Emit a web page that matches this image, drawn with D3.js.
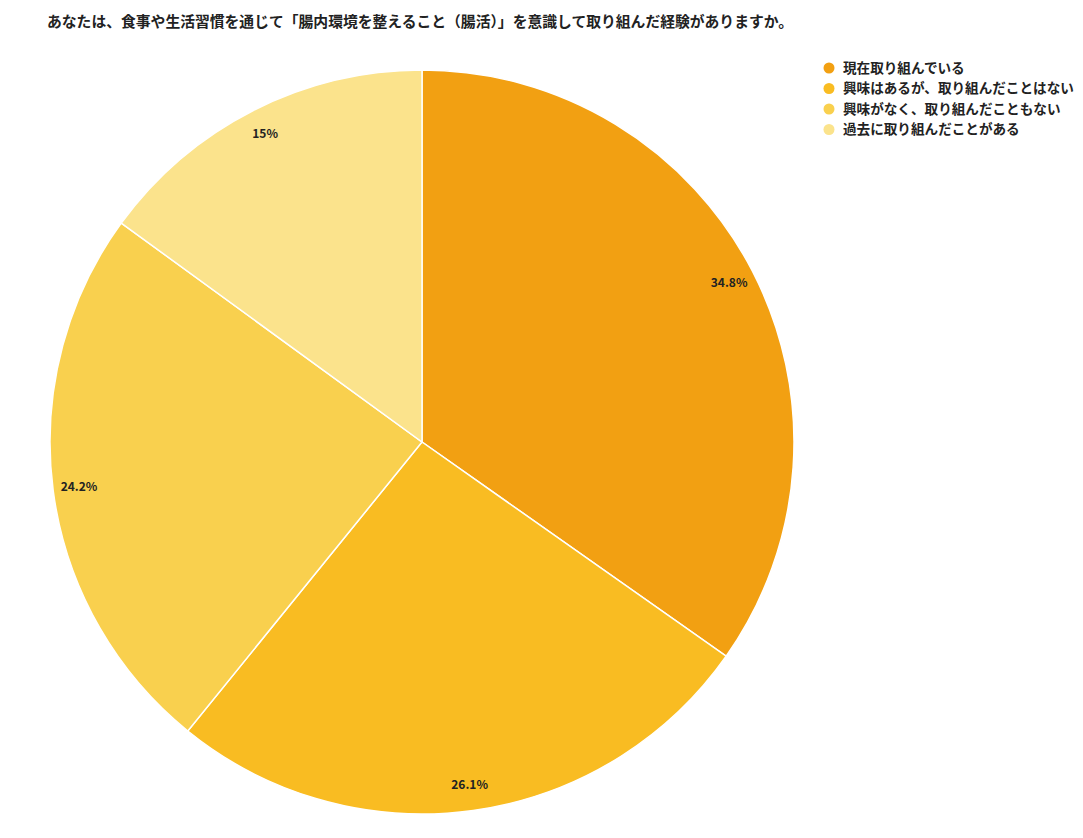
<!DOCTYPE html>
<html>
<head>
<meta charset="utf-8">
<script src="https://cdn.jsdelivr.net/npm/d3@7"></script>
<style>
  body { margin: 0; background: #fff; }
  text { font-family: "Noto Sans CJK JP", "Noto Sans", sans-serif; }
</style>
</head>
<body>
<div id="chart"></div>
<script>
// chart data
var categories = ["現在取り組んでいる", "興味はあるが、取り組んだことはない", "興味がなく、取り組んだこともない", "過去に取り組んだことがある"];
var values = [34.8, 26.1, 24.2, 15];
var valueLabels = ["34.8%", "26.1%", "24.2%", "15%"];
var colors = ["#f2a012", "#f9bc22", "#f9d04e", "#fbe38c"];
var title = "あなたは、食事や生活習慣を通じて「腸内環境を整えること（腸活）」を意識して取り組んだ経験がありますか。";

var svgWidth = 1083;
var svgHeight = 838;
var cx = 422, cy = 442, radius = 372;

var svg = d3.select("#chart")
  .append("svg")
  .attr("width", svgWidth)
  .attr("height", svgHeight);

// title
svg.append("text")
  .attr("x", 47)
  .attr("y", 27)
  .attr("font-size", 14.8)
  .attr("font-weight", "bold")
  .attr("fill", "#222")
  .text(title);

var pie = d3.pie().sort(null).value(d => d);
var arc = d3.arc().innerRadius(0).outerRadius(radius);
var labelArc = d3.arc().innerRadius(radius * 0.93).outerRadius(radius * 0.93);

var pieGroup = svg.append("g")
  .attr("transform", `translate(${cx}, ${cy})`);

var arcs = pie(values);

pieGroup.selectAll(".slice")
  .data(arcs)
  .enter()
  .append("path")
  .attr("class", "slice")
  .attr("d", arc)
  .attr("fill", (d, i) => colors[i])
  .attr("stroke", "#fff")
  .attr("stroke-width", 1.5);

// percent labels
pieGroup.selectAll(".pct")
  .data(arcs)
  .enter()
  .append("text")
  .attr("class", "pct")
  .attr("transform", d => `translate(${labelArc.centroid(d)})`)
  .attr("text-anchor", "middle")
  .attr("dy", "0.35em")
  .attr("font-size", 12)
  .attr("font-weight", "bold")
  .attr("fill", "#222")
  .text((d, i) => valueLabels[i]);

// legend
var legend = svg.append("g")
  .attr("transform", "translate(829, 68)");

categories.forEach(function(c, i) {
  var row = legend.append("g")
    .attr("transform", `translate(0, ${i * 20.5})`);
  row.append("circle")
    .attr("r", 5.5)
    .attr("fill", colors[i]);
  row.append("text")
    .attr("x", 14)
    .attr("dy", "0.35em")
    .attr("font-size", 13.6)
    .attr("font-weight", "bold")
    .attr("fill", "#222")
    .text(c);
});
</script>
</body>
</html>
